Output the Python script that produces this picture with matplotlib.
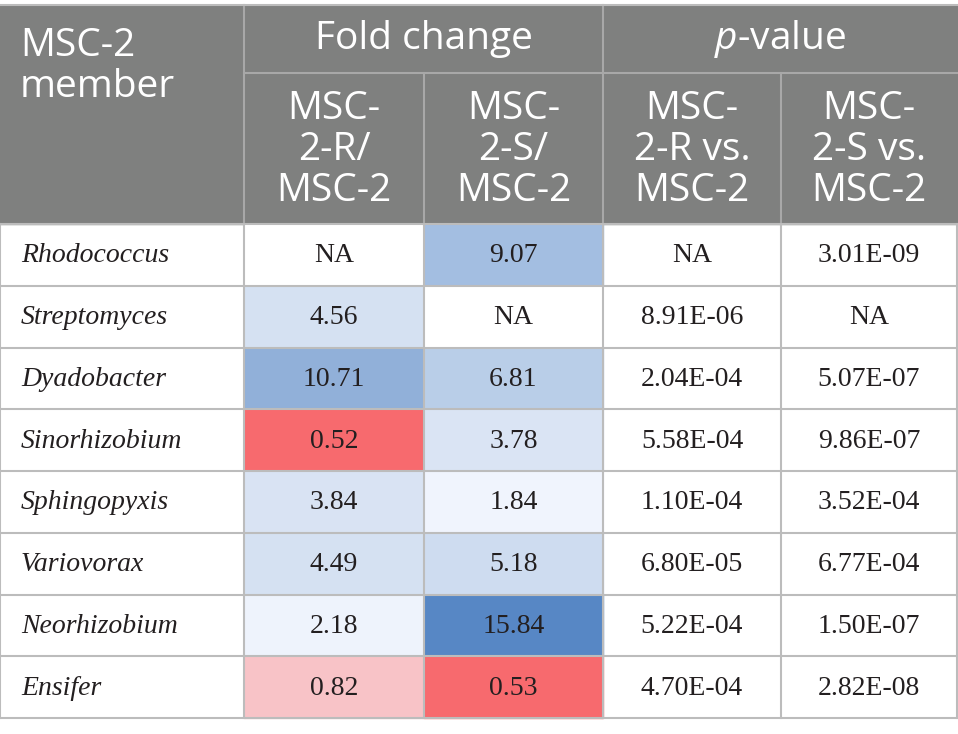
import matplotlib.pyplot as plt
from matplotlib.patches import Rectangle

# table content
members = ["Rhodococcus", "Streptomyces", "Dyadobacter", "Sinorhizobium",
           "Sphingopyxis", "Variovorax", "Neorhizobium", "Ensifer"]
fold_r = [None, 4.56, 10.71, 0.52, 3.84, 4.49, 2.18, 0.82]
fold_s = [9.07, None, 6.81, 3.78, 1.84, 5.18, 15.84, 0.53]
pval_r = [None, 8.91e-06, 2.04e-04, 5.58e-04, 1.10e-04, 6.80e-05, 5.22e-04, 4.70e-04]
pval_s = [3.01e-09, None, 5.07e-07, 9.86e-07, 3.52e-04, 6.77e-04, 1.50e-07, 2.82e-08]
sub_headers = ["MSC-\n2-R/\nMSC-2", "MSC-\n2-S/\nMSC-2",
               "MSC-\n2-R vs.\nMSC-2", "MSC-\n2-S vs.\nMSC-2"]

# cell shading of the two fold change columns
shade_r = ["white", "#d5e1f2", "#91b0d9", "#f76a6e", "#d9e3f3", "#d5e1f2", "#eef3fc", "#f8c3c7"]
shade_s = ["#a3bee1", "white", "#b9cee8", "#dae4f4", "#f0f4fd", "#cedcf0", "#5787c5", "#f76a6e"]

HEAD_BG = "#7f807f"
GRID = "#bcbcbc"
TXT = "#231f20"
HEAD_FONT = "Open Sans"
BODY_FONT = "Liberation Serif"
HEAD_SIZE = 28
BODY_SIZE = 20

plt.rcParams["mathtext.fontset"] = "custom"
plt.rcParams["mathtext.it"] = "Open Sans:italic"
plt.rcParams["mathtext.rm"] = "Open Sans"

col_edges = [0, 244, 424, 603, 781, 957]
top, mid, head_bot, row_h = 5, 72.5, 224, 61.75

fig = plt.figure(figsize=(9.58, 7.34), dpi=100)
ax = fig.add_axes([0, 0, 1, 1])
ax.set_xlim(0, 958)
ax.set_ylim(734, 0)
ax.axis("off")

# header block
ax.add_patch(Rectangle((0, top), col_edges[-1], head_bot - top, color=HEAD_BG, zorder=0))
ax.text(20, 27, "MSC-2\nmember", ha="left", va="top", color="white", fontsize=HEAD_SIZE,
        family=HEAD_FONT, linespacing=1.1)
ax.text((col_edges[1] + col_edges[3]) / 2, (top + mid) / 2, "Fold change", ha="center",
        va="center", color="white", fontsize=HEAD_SIZE, family=HEAD_FONT)
ax.text((col_edges[3] + col_edges[5]) / 2, (top + mid) / 2, "$\\it{p}$-value", ha="center",
        va="center", color="white", fontsize=HEAD_SIZE, family=HEAD_FONT)
for j, lab in enumerate(sub_headers):
    cx = (col_edges[j + 1] + col_edges[j + 2]) / 2
    ax.text(cx, (mid + head_bot) / 2 + 2, lab, ha="center", va="center", color="white",
            fontsize=HEAD_SIZE, family=HEAD_FONT, linespacing=1.1)

# header lines
hl = "#a8a8a8"
ax.plot([col_edges[1], col_edges[5]], [mid, mid], color=hl, lw=1.5)
for x in col_edges[1:-1]:
    y0 = top if x in (col_edges[1], col_edges[3]) else mid
    ax.plot([x, x], [y0, head_bot], color=hl, lw=1.5)


def fmt_fold(v):
    return "NA" if v is None else f"{v:.2f}"


def fmt_p(v):
    return "NA" if v is None else f"{v:.2E}"


# body rows
for i, name in enumerate(members):
    y0 = head_bot + i * row_h
    yc = y0 + row_h / 2
    ax.add_patch(Rectangle((col_edges[1], y0), col_edges[2] - col_edges[1], row_h,
                           color=shade_r[i], zorder=0))
    ax.add_patch(Rectangle((col_edges[2], y0), col_edges[3] - col_edges[2], row_h,
                           color=shade_s[i], zorder=0))
    ax.text(21, yc + 1, name, ha="left", va="center", fontsize=BODY_SIZE, style="italic",
            family=BODY_FONT, color=TXT)
    cells = [fmt_fold(fold_r[i]), fmt_fold(fold_s[i]), fmt_p(pval_r[i]), fmt_p(pval_s[i])]
    for j, s in enumerate(cells):
        cx = (col_edges[j + 1] + col_edges[j + 2]) / 2
        ax.text(cx, yc + 1, s, ha="center", va="center", fontsize=BODY_SIZE, family=BODY_FONT,
                color=TXT)

bottom = head_bot + len(members) * row_h
for i in range(len(members) + 1):
    y = head_bot + i * row_h
    ax.plot([0, col_edges[-1]], [y, y], color=GRID, lw=1.5)
for x in col_edges:
    ax.plot([x, x], [head_bot, bottom], color=GRID, lw=1.5)
ax.plot([0, col_edges[-1]], [top, top], color=GRID, lw=1.5)

fig.savefig("out.png", dpi=100)
